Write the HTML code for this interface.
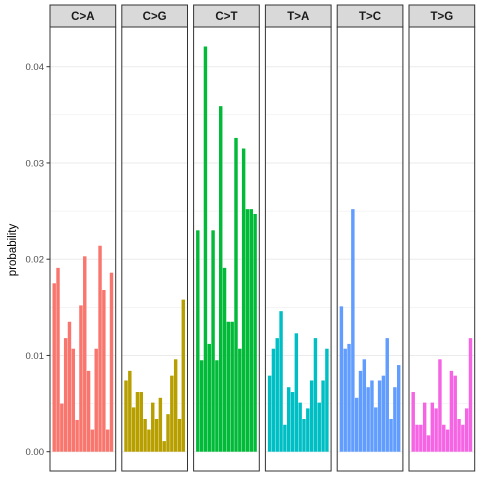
<!DOCTYPE html>
<html><head><meta charset="utf-8"><style>
html,body{margin:0;padding:0;background:#fff;width:480px;height:480px;overflow:hidden}
svg{display:block;font-family:"Liberation Sans",sans-serif}
</style></head><body>
<svg id="chart" width="480" height="480"></svg>
<script>
const categories = ["C>A","C>G","C>T","T>A","T>C","T>G"];
const colors = ["#F8766D","#B79F00","#00BA38","#00BFC4","#619CFF","#F564E3"];
const valsCA = [.0175,.0191,.0050,.0118,.0135,.0107,.0033,.0152,.0203,.0084,.0023,.0107,.0214,.0168,.0023,.0186];
const valsCG = [.0074,.0084,.0046,.0062,.0062,.0034,.0023,.0051,.0034,.0056,.0011,.0039,.0079,.0096,.0034,.0158];
const valsCT = [.0230,.0095,.0421,.0112,.0230,.0095,.0359,.0191,.0135,.0135,.0326,.0107,.0315,.0252,.0252,.0247];
const valsTA = [.0079,.0107,.0118,.0146,.0028,.0067,.0062,.0123,.0051,.0034,.0045,.0074,.0118,.0051,.0074,.0107];
const valsTC = [.0151,.0107,.0112,.0252,.0056,.0084,.0096,.0067,.0074,.0046,.0074,.0079,.0118,.0034,.0067,.0090];
const valsTG = [.0062,.0028,.0028,.0051,.0017,.0051,.0045,.0096,.0028,.0023,.0084,.0079,.0034,.0028,.0045,.0118];
const series = [valsCA,valsCG,valsCT,valsTA,valsTC,valsTG];
const yTicks = [0,0.01,0.02,0.03,0.04];
const yTickLabels = ["0.00","0.01","0.02","0.03","0.04"];

const NS="http://www.w3.org/2000/svg";
const svg=document.getElementById('chart');
function el(t,a,p){const e=document.createElementNS(NS,t);for(const k in a)e.setAttribute(k,a[k]);(p||svg).appendChild(e);return e;}
const plotTop=27,plotBottom=471,y0=451.7,pxPer=9625;
const y=v=>y0-v*pxPer;
const panelL=50,panelW=65.7,step=71.8;
for(let i=0;i<yTicks.length;i++){
  const t=el('text',{x:44,y:y(yTicks[i])+3.5,'text-anchor':'end','font-size':'9.5',fill:'#4d4d4d'});
  t.textContent=yTickLabels[i];
  
  
  el('line',{x1:46.5,x2:50,y1:y(yTicks[i]),y2:y(yTicks[i]),stroke:'#333','stroke-width':1});
}
const yt=el('text',{x:0,y:0,transform:'translate(16,250) rotate(-90)','text-anchor':'middle','font-size':'11.5',fill:'#000'});
yt.textContent='probability';


categories.forEach((c,p)=>{
  const L=panelL+p*step;
  const g=el('g',{});
  
  
  for(let k=0;k<=9;k++){
    const v=k*0.005;
    el('line',{x1:L,x2:L+panelW,y1:y(v),y2:y(v),stroke:'#ebebeb','stroke-width':k%2===0?1:0.5},g);
  }
  const vals=series[p];
  const n=vals.length,unit=panelW/(n+1.2),bw=unit*0.9;
  vals.forEach((v,i)=>{
    const cx=L+unit*(0.6+i+0.5);
    const r=el('rect',{x:cx-bw/2,y:y(v),width:bw,height:y0-y(v),fill:colors[p]},g);
    
    
  });
  el('rect',{x:L,y:plotTop,width:panelW,height:plotBottom-plotTop,fill:'none',stroke:'#333','stroke-width':1},g);
  const s=el('rect',{x:L,y:5,width:panelW,height:22,fill:'#d9d9d9',stroke:'#333','stroke-width':1},g);
  
  
  const st=el('text',{x:L+panelW/2,y:20,'text-anchor':'middle','font-size':'11.5','font-weight':'bold',fill:'#1a1a1a'},g);
  st.textContent=c;
  
  
});
</script>
</body></html>
